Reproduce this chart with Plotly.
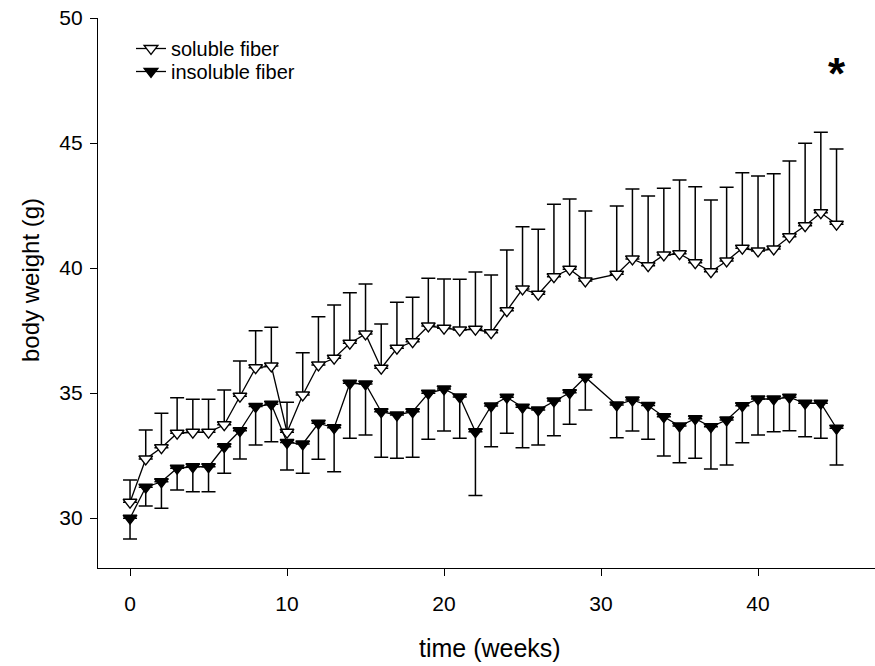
import plotly.graph_objects as go

weeks = [0, 1, 2, 3, 4, 5, 6, 7, 8, 9, 10, 11, 12, 13, 14, 15, 16, 17, 18, 19, 20, 21, 22, 23,
         24, 25, 26, 27, 28, 29, 31, 32, 33, 34, 35, 36, 37, 38, 39, 40, 41, 42, 43, 44, 45]

soluble_mean = [30.63, 32.36, 32.81, 33.39, 33.43, 33.43, 33.73, 34.87, 36.01, 36.08, 33.43, 34.92,
                36.12, 36.39, 36.99, 37.36, 35.99, 36.79, 37.05, 37.68, 37.59, 37.52, 37.55, 37.41,
                38.29, 39.16, 38.95, 39.65, 39.95, 39.48, 39.75, 40.36, 40.09, 40.52, 40.57, 40.21,
                39.85, 40.28, 40.79, 40.68, 40.76, 41.25, 41.69, 42.21, 41.75]
soluble_sem = [0.89, 1.16, 1.38, 1.42, 1.32, 1.32, 1.39, 1.41, 1.48, 1.55, 1.20, 1.69,
               1.93, 2.13, 2.02, 2.00, 1.77, 1.84, 1.78, 1.91, 1.97, 2.03, 2.29, 2.31,
               2.43, 2.49, 2.60, 2.90, 2.81, 2.80, 2.73, 2.80, 2.79, 2.67, 2.95, 3.04,
               2.87, 2.95, 3.02, 3.00, 3.01, 3.03, 3.30, 3.22, 3.01]

insoluble_mean = [29.99, 31.23, 31.45, 31.99, 32.05, 32.05, 32.85, 33.49, 34.46, 34.55, 33.02, 32.96,
                  33.79, 33.61, 35.39, 35.36, 34.25, 34.12, 34.25, 34.99, 35.16, 34.84, 33.45, 34.48,
                  34.83, 34.43, 34.32, 34.68, 35.01, 35.63, 34.52, 34.72, 34.50, 34.05, 33.68, 33.97,
                  33.65, 33.92, 34.49, 34.76, 34.76, 34.83, 34.59, 34.59, 33.59]
insoluble_sem = [0.83, 0.75, 1.06, 0.87, 1.00, 1.00, 1.06, 1.13, 1.54, 1.50, 1.10, 1.17,
                 1.44, 1.76, 2.20, 2.04, 1.82, 1.73, 1.82, 1.84, 1.68, 1.65, 2.55, 1.63,
                 1.44, 1.62, 1.40, 1.39, 1.26, 1.31, 1.31, 1.24, 1.35, 1.57, 1.47, 1.58,
                 1.69, 1.80, 1.48, 1.44, 1.31, 1.34, 1.34, 1.40, 1.47]

series_names = ["soluble fiber", "insoluble fiber"]
x_ticks = [0, 10, 20, 30, 40]
y_ticks = [30, 35, 40, 45, 50]
x_title = "time (weeks)"
y_title = "body weight (g)"
signif_mark = "*"
signif_week = 45
signif_y = 48.0

FONT = "Liberation Sans, Arial, sans-serif"
zeros = [0] * len(weeks)

fig = go.Figure()
fig.add_trace(go.Scatter(
    x=weeks, y=soluble_mean, name=series_names[0], mode="lines+markers",
    line=dict(color="black", width=1.3),
    marker=dict(symbol="triangle-down", size=12, color="white",
                line=dict(color="black", width=1.3)),
    error_y=dict(type="data", symmetric=False, array=soluble_sem, arrayminus=zeros,
                 color="black", thickness=1.5, width=7),
    legend="legend",
))
fig.add_trace(go.Scatter(
    x=weeks, y=insoluble_mean, name=series_names[1], mode="lines+markers",
    line=dict(color="black", width=1.3),
    marker=dict(symbol="triangle-down", size=12, color="black",
                line=dict(color="black", width=1.3)),
    error_y=dict(type="data", symmetric=False, array=zeros, arrayminus=insoluble_sem,
                 color="black", thickness=1.5, width=7),
    legend="legend2",
))

fig.add_annotation(x=signif_week, y=signif_y, text="<b>" + signif_mark + "</b>",
                   showarrow=False, font=dict(family=FONT, size=44, color="black"),
                   xanchor="center", yanchor="middle", yshift=-5)
fig.add_annotation(x=(489.5 - 98) / 777, y=-(648 - 568) / 550, xref="paper", yref="paper",
                   text=x_title, showarrow=False, xanchor="center", yanchor="middle",
                   font=dict(family=FONT, size=25, color="black"))
fig.add_annotation(x=-(98 - 30) / 777, y=1 - (280 - 18) / 550, xref="paper", yref="paper",
                   text=y_title, showarrow=False, textangle=-90, xanchor="center", yanchor="middle",
                   font=dict(family=FONT, size=24, color="black"))

leg_common = dict(xanchor="left", yanchor="top", bgcolor="rgba(0,0,0,0)",
                  font=dict(family=FONT, size=20, color="black"), itemsizing="trace")
fig.update_layout(
    width=875, height=666,
    margin=dict(l=98, r=0, t=18, b=98),
    paper_bgcolor="white", plot_bgcolor="white",
    font=dict(family=FONT, size=21, color="black"),
    showlegend=True,
    legend=dict(x=(131 - 98) / 777, y=1 - (29 - 18) / 550, **leg_common),
    legend2=dict(x=(131 - 98) / 777, y=1 - (52 - 18) / 550, **leg_common),
    xaxis=dict(range=[-2.04, 47.45], tickvals=x_ticks, ticks="outside", ticklen=7,
               tickwidth=1.3, tickcolor="black", showline=True, linecolor="black",
               linewidth=1.3, showgrid=False, zeroline=False, ticklabelstandoff=10,
               tickfont=dict(family=FONT, size=21, color="black")),
    yaxis=dict(range=[28, 50], tickvals=y_ticks, ticks="outside", ticklen=7,
               tickwidth=1.3, tickcolor="black", showline=True, linecolor="black",
               linewidth=1.3, showgrid=False, zeroline=False, ticklabelstandoff=3,
               tickfont=dict(family=FONT, size=21, color="black")),
)

fig.write_html("out.html", config={"displayModeBar": False},
               post_script="document.body.style.margin='0px';")
